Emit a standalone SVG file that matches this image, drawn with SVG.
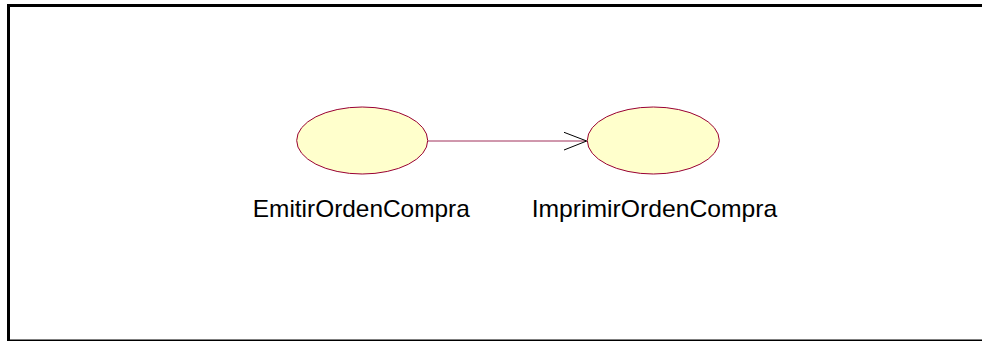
<svg xmlns="http://www.w3.org/2000/svg" width="982" height="341" viewBox="0 0 982 341">
<style>
.uc{fill:#ffffcc;stroke:#990033;stroke-width:1}
.lbl{font-family:"Liberation Sans",Arial,sans-serif;font-size:24px;fill:#000;text-anchor:middle}
.conn{stroke:#a0305a;stroke-width:1;fill:none}
.head{stroke:#000;stroke-width:1;fill:none}
</style>
<rect width="982" height="341" fill="#fff"/>
<g id="frame">
<rect x="7" y="4" width="975" height="3" fill="#000"/>
<rect x="7" y="4" width="3" height="337" fill="#000"/>
<rect x="10" y="339.5" width="972" height="1.5" fill="#000"/>
</g>
<g id="connectors">
<line class="conn" x1="428" y1="141" x2="586.5" y2="141"/>
<polyline class="head" points="564,132.3 586.7,141 564,150"/>
</g>
<g id="EmitirOrdenCompra">
<ellipse class="uc" cx="362.2" cy="140.5" rx="65.5" ry="33.5"/>
<text class="lbl" x="361.3" y="216.5" textLength="217" lengthAdjust="spacingAndGlyphs">EmitirOrdenCompra</text>
</g>
<g id="ImprimirOrdenCompra">
<ellipse class="uc" cx="653.3" cy="140.5" rx="66" ry="33.5"/>
<text class="lbl" x="654.5" y="216.5" textLength="245.6" lengthAdjust="spacingAndGlyphs">ImprimirOrdenCompra</text>
</g>
</svg>
